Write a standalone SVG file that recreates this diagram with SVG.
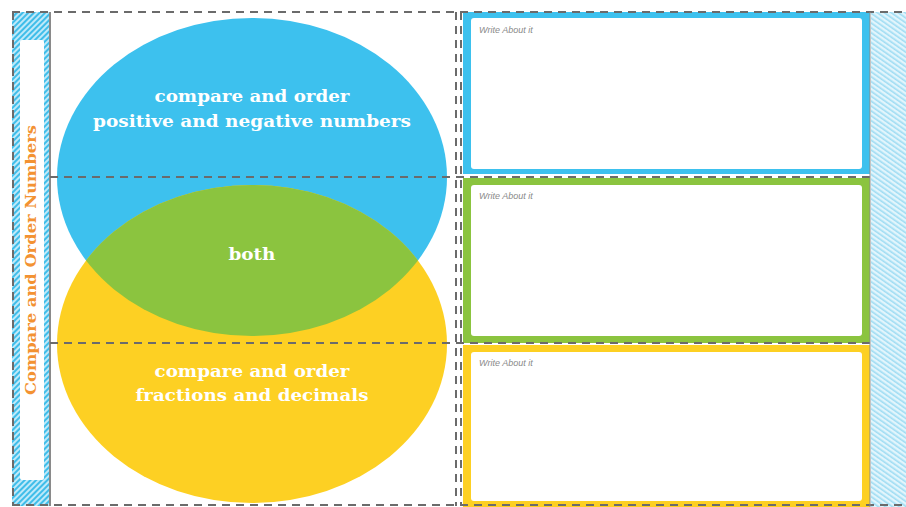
<svg xmlns="http://www.w3.org/2000/svg" width="906" height="507" viewBox="0 0 906 507">
<style>
.dash{stroke:#6b6b6b;stroke-width:2;stroke-dasharray:8 6;fill:none}
.vt{font-family:"DejaVu Serif","Liberation Serif",serif;font-weight:bold;font-size:17px;fill:#ffffff;text-anchor:middle}
.wa{font-family:"Liberation Sans","DejaVu Sans",sans-serif;font-style:italic;font-size:9px;fill:#8a8a8a}
.inner{fill:#ffffff}
</style>
<defs>
<pattern id="hatchL" width="4" height="4" patternUnits="userSpaceOnUse" patternTransform="rotate(45)">
<rect width="4" height="4" fill="#bfe9f9"/>
<rect width="2" height="4" fill="#3fbde9"/>
</pattern>
<pattern id="hatchR" width="4" height="4" patternUnits="userSpaceOnUse" patternTransform="rotate(-55)">
<rect width="4" height="4" fill="#e2f5fc"/>
<rect width="1.6" height="4" fill="#9fdcf3"/>
</pattern>
<clipPath id="blueClip"><ellipse cx="252" cy="177" rx="195" ry="159"/></clipPath>
</defs>

<rect width="906" height="507" fill="#ffffff"/>

<g id="left-strip">
<rect x="12" y="12" width="38" height="494" fill="url(#hatchL)"/>
<rect x="20" y="40" width="24" height="440" fill="#ffffff" rx="2"/>
<text x="0" y="0" transform="translate(36,260) rotate(-90)" text-anchor="middle" font-family="DejaVu Serif,'Liberation Serif',serif" font-weight="bold" font-size="15" fill="#f39232" textLength="270" lengthAdjust="spacingAndGlyphs">Compare and Order Numbers</text>
</g>

<g id="right-strip">
<rect x="871" y="12" width="35" height="495" fill="url(#hatchR)"/>
</g>

<g id="venn-positive-negative">
<ellipse cx="252" cy="177" rx="195" ry="159" fill="#3dc1ee"/>
</g>
<g id="venn-fractions-decimals">
<ellipse cx="252" cy="344" rx="195" ry="159" fill="#fdd023"/>
</g>
<g id="venn-both">
<ellipse cx="252" cy="344" rx="195" ry="159" fill="#8bc43f" clip-path="url(#blueClip)"/>
</g>

<g id="box-blue">
<rect x="463" y="12" width="407" height="162" fill="#3dc1ee"/>
<rect x="471" y="18" width="391" height="151" rx="3" class="inner"/>
<text x="479" y="33" class="wa">Write About it</text>
</g>
<g id="box-green">
<rect x="463" y="178" width="407" height="165" fill="#8bc43f"/>
<rect x="471" y="185" width="391" height="151" rx="3" class="inner"/>
<text x="479" y="199" class="wa">Write About it</text>
</g>
<g id="box-yellow">
<rect x="463" y="345" width="407" height="162" fill="#fdd023"/>
<rect x="471" y="352" width="391" height="149" rx="3" class="inner"/>
<text x="479" y="366" class="wa">Write About it</text>
</g>

<g id="labels">
<text x="252" y="102" class="vt" textLength="195" lengthAdjust="spacingAndGlyphs">compare and order</text>
<text x="252" y="127" class="vt" textLength="318" lengthAdjust="spacingAndGlyphs">positive and negative numbers</text>
<text x="252" y="260" class="vt" textLength="47" lengthAdjust="spacingAndGlyphs">both</text>
<text x="252" y="377" class="vt" textLength="195" lengthAdjust="spacingAndGlyphs">compare and order</text>
<text x="252" y="401" class="vt" textLength="233" lengthAdjust="spacingAndGlyphs">fractions and decimals</text>
</g>

<g id="connectors">
<line x1="12" y1="12" x2="906" y2="12" class="dash"/>
<line x1="12" y1="505" x2="906" y2="505" class="dash"/>
<line x1="13" y1="12" x2="13" y2="506" class="dash"/>
<line x1="50" y1="12" x2="50" y2="506" stroke="#8a8a8a" stroke-width="2"/>
<line x1="456" y1="12" x2="456" y2="506" class="dash"/>
<line x1="461" y1="12" x2="461" y2="506" class="dash"/>
<line x1="50" y1="177" x2="870" y2="177" class="dash"/>
<line x1="50" y1="343" x2="870" y2="343" class="dash"/>
<line x1="870" y1="12" x2="870" y2="507" stroke="#8a8a8a" stroke-width="1"/>
</g>
</svg>
